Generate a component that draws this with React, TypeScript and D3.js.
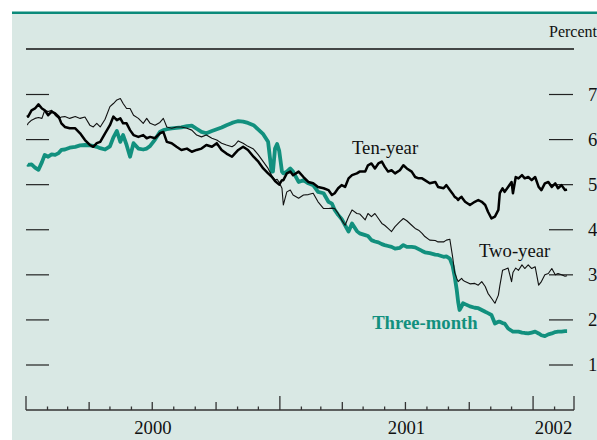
import React from "react";
import * as d3 from "d3";

const dates: string[] = [
  "2000-01-03","2000-01-04","2000-01-09","2000-01-14","2000-01-19","2000-01-24","2000-01-28",
  "2000-02-02","2000-02-07","2000-02-12","2000-02-17","2000-02-21","2000-02-26",
  "2000-03-04","2000-03-12","2000-03-19","2000-03-26",
  "2000-04-02","2000-04-07","2000-04-12","2000-04-17","2000-04-24",
  "2000-05-01","2000-05-06","2000-05-11","2000-05-16","2000-05-20","2000-05-25","2000-05-30",
  "2000-06-04","2000-06-11","2000-06-18","2000-06-23","2000-06-28",
  "2000-07-05","2000-07-12","2000-07-17","2000-07-22","2000-07-29",
  "2000-08-05","2000-08-12","2000-08-20","2000-08-27",
  "2000-09-03","2000-09-10","2000-09-17","2000-09-25",
  "2000-10-02","2000-10-09","2000-10-16","2000-10-24","2000-10-28",
  "2000-11-02","2000-11-09","2000-11-16","2000-11-24",
  "2000-12-01","2000-12-08","2000-12-15","2000-12-20","2000-12-22","2000-12-25","2000-12-28","2000-12-31",
  "2001-01-04","2001-01-06","2001-01-11","2001-01-16","2001-01-20","2001-01-28",
  "2001-02-04","2001-02-11","2001-02-18","2001-02-25",
  "2001-03-05","2001-03-12","2001-03-17","2001-03-21","2001-03-26","2001-03-31",
  "2001-04-05","2001-04-10","2001-04-15","2001-04-22","2001-04-26",
  "2001-05-04","2001-05-08","2001-05-13","2001-05-18","2001-05-23","2001-05-28",
  "2001-06-01","2001-06-06","2001-06-11","2001-06-16","2001-06-23","2001-06-28",
  "2001-07-03","2001-07-10","2001-07-15","2001-07-20","2001-07-25","2001-07-29",
  "2001-08-05","2001-08-13","2001-08-17","2001-08-25","2001-08-29",
  "2001-09-03","2001-09-07","2001-09-10","2001-09-13","2001-09-15","2001-09-17","2001-09-20","2001-09-22","2001-09-25",
  "2001-10-02","2001-10-09","2001-10-14","2001-10-19","2001-10-24","2001-10-28",
  "2001-11-02","2001-11-07","2001-11-12","2001-11-14","2001-11-18","2001-11-21","2001-11-26",
  "2001-12-01","2001-12-03","2001-12-07","2001-12-11","2001-12-16","2001-12-20","2001-12-25","2001-12-30",
  "2002-01-04","2002-01-09","2002-01-13","2002-01-18","2002-01-23","2002-01-28",
  "2002-02-02","2002-02-06","2002-02-11","2002-02-16","2002-02-19",
];

const tenYear: number[] = [
  6.54,6.51,6.65,6.69,6.78,6.69,6.65,
  6.54,6.62,6.58,6.51,6.36,6.28,
  6.25,6.25,6.14,5.99,
  5.88,5.84,5.92,5.95,6.14,
  6.32,6.51,6.43,6.47,6.36,6.36,6.21,
  6.10,6.06,6.10,6.03,6.06,
  6.03,6.14,6.17,5.95,5.92,
  5.84,5.77,5.80,5.73,
  5.77,5.80,5.88,5.84,
  5.92,5.77,5.69,5.62,5.69,
  5.77,5.84,5.77,5.62,
  5.51,5.36,5.25,5.18,5.14,5.08,5.04,5.00,
  5.10,5.10,5.25,5.29,5.21,5.29,
  5.17,5.06,5.03,4.95,
  4.92,4.88,4.77,4.81,4.92,4.99,
  4.95,5.14,5.21,5.25,5.29,
  5.29,5.43,5.47,5.36,5.47,5.51,
  5.40,5.29,5.32,5.25,5.32,5.43,
  5.36,5.29,5.17,5.14,5.14,5.10,
  5.03,5.06,4.95,4.92,4.99,
  4.88,4.80,4.73,4.70,4.66,4.70,4.73,4.68,4.62,
  4.55,4.62,4.66,4.62,4.55,4.40,
  4.25,4.29,4.44,4.81,4.92,4.84,4.95,
  5.06,4.81,5.17,5.14,5.21,5.14,5.17,5.10,
  5.17,4.95,4.88,5.03,5.06,4.95,
  5.03,4.92,4.99,4.88,4.89,
];

const twoYear: number[] = [
  6.32,6.36,6.43,6.47,6.49,6.47,6.65,
  6.62,6.65,6.54,6.47,6.50,6.51,
  6.47,6.51,6.47,6.50,
  6.32,6.28,6.36,6.28,6.45,
  6.73,6.80,6.88,6.91,6.80,6.69,6.69,
  6.54,6.47,6.36,6.47,6.36,
  6.32,6.38,6.47,6.28,6.25,
  6.28,6.28,6.25,6.21,
  6.10,6.06,6.10,6.03,
  5.99,5.92,5.88,5.84,5.88,
  5.97,5.92,5.85,5.79,
  5.66,5.51,5.36,5.21,5.16,5.10,5.12,5.05,
  4.92,4.55,4.84,4.88,4.77,4.70,
  4.77,4.78,4.81,4.62,
  4.47,4.47,4.48,4.47,4.36,4.22,
  4.10,4.29,4.44,4.36,4.35,
  4.22,4.36,4.29,4.36,4.25,4.14,
  4.10,4.03,3.96,4.07,4.18,4.25,
  4.20,4.10,4.03,3.99,3.92,3.85,
  3.77,3.76,3.73,3.73,3.77,
  3.79,3.40,3.05,2.92,2.85,2.88,2.92,2.88,2.85,
  2.80,2.81,2.77,2.85,2.74,2.59,
  2.48,2.37,2.55,2.75,3.10,3.12,3.15,
  2.85,3.05,3.15,3.10,3.22,3.14,3.22,3.14,
  3.18,2.77,2.85,3.00,3.03,3.14,
  3.00,3.03,3.00,2.97,2.98,
];

const threeMonth: number[] = [
  5.45,5.44,5.45,5.38,5.33,5.50,5.66,
  5.62,5.67,5.66,5.70,5.77,5.78,
  5.82,5.84,5.87,5.88,
  5.87,5.86,5.84,5.81,5.78,
  5.85,6.05,6.19,5.95,6.10,5.88,5.62,
  5.92,5.80,5.78,5.80,5.86,
  6.00,6.17,6.21,6.23,6.25,
  6.26,6.27,6.30,6.31,
  6.24,6.17,6.14,6.19,
  6.23,6.27,6.32,6.37,6.39,
  6.41,6.40,6.37,6.32,
  6.22,6.12,5.95,5.29,5.29,5.80,5.90,5.75,
  5.29,5.25,5.29,5.36,5.29,5.06,
  5.10,5.03,4.99,4.84,
  4.81,4.62,4.58,4.44,4.33,4.24,
  4.10,3.96,4.14,3.97,3.92,
  3.88,3.86,3.77,3.74,3.72,3.68,
  3.66,3.64,3.62,3.58,3.60,3.66,
  3.62,3.62,3.61,3.57,3.53,3.50,
  3.48,3.45,3.44,3.40,3.41,
  3.36,3.20,2.96,2.66,2.40,2.22,2.30,2.37,2.35,
  2.30,2.27,2.26,2.22,2.18,2.15,
  2.11,1.92,1.96,1.96,1.93,1.92,1.81,
  1.76,1.74,1.74,1.74,1.72,1.71,1.70,1.72,
  1.74,1.70,1.66,1.64,1.68,1.70,
  1.73,1.74,1.74,1.75,1.75,
];

const yTicks: number[] = [1, 2, 3, 4, 5, 6, 7];
const yearLabels: number[] = [2000, 2001, 2002];
const seriesLabels = [
  { name: "Ten-year", date: "2001-04-15", value: 5.68, bold: false },
  { name: "Two-year", date: "2001-10-15", value: 3.40, bold: false },
  { name: "Three-month", date: "2001-05-14", value: 1.80, bold: true },
];

const FONT = "'Liberation Serif', 'Times New Roman', serif";
const TEAL = "#12907e";
const BG = "#d9e8e4";

export default function App() {
  const W = 597, H = 440;
  const parse = d3.timeParse("%Y-%m-%d");
  const start = new Date(2000, 0, 1);
  const end = new Date(2002, 2, 1);
  const x = d3.scaleTime().domain([start, end]).range([26, 574]);
  const y = d3.scaleLinear().domain([1, 7]).range([365, 94.5]);
  const parsed = dates.map((d) => parse(d) as Date);
  const mk = (vals: number[]) =>
    d3.line<number>().x((_, i) => x(parsed[i])).y((v) => y(v))(vals) || "";

  const months = d3.timeMonth.range(start, d3.timeDay.offset(end, 1));
  const axisY = 410;

  return (
    <svg width={W} height={H} style={{ position: "absolute", left: 0, top: 0, display: "block" }}>
      <rect x={0} y={0} width={W} height={H} fill="#ffffff" />
      <rect x={12} y={12} width={W - 12} height={H - 12} fill={BG} />
      <rect x={12} y={11.5} width={W - 12} height={2.5} fill="#0b8a7a" />
      <text x={549} y={37} fontFamily={FONT} fontSize={16} fill="#111">Percent</text>
      <line x1={26} x2={574} y1={49} y2={49} stroke="#111" strokeWidth={1.3} />

      {yTicks.map((t) => (
        <g key={t}>
          <line x1={26} x2={49} y1={y(t)} y2={y(t)} stroke="#222" strokeWidth={1.2} />
          <line x1={549} x2={573} y1={y(t)} y2={y(t)} stroke="#222" strokeWidth={1.2} />
          <text x={588} y={y(t) + 6.3} fontFamily={FONT} fontSize={18.7} fill="#111">{t}</text>
        </g>
      ))}

      <path d={mk(threeMonth)} fill="none" stroke={TEAL} strokeWidth={3.8} strokeLinejoin="round" />
      <path d={mk(twoYear)} fill="none" stroke="#111" strokeWidth={1.1} strokeLinejoin="round" />
      <path d={mk(tenYear)} fill="none" stroke="#000" strokeWidth={2.5} strokeLinejoin="round" />

      {seriesLabels.map((s) => (
        <text key={s.name} x={x(parse(s.date) as Date)} y={y(s.value)} fontFamily={FONT}
          fontSize={18.7} fontWeight={s.bold ? "bold" : "normal"} fill={s.bold ? TEAL : "#111"}>
          {s.name}
        </text>
      ))}

      <line x1={26} x2={574} y1={axisY} y2={axisY} stroke="#333" strokeWidth={1.5} />
      {months.map((m, i) => {
        const isEnd = +m === +end;
        const h = m.getMonth() === 0 || isEnd ? 14 : m.getMonth() % 3 === 0 ? 8 : 3.5;
        return <line key={i} x1={x(m)} x2={x(m)} y1={axisY} y2={axisY - h} stroke="#333" strokeWidth={1.3} />;
      })}
      {yearLabels.map((yr) => {
        const s = new Date(yr, 0, 1);
        const e = new Date(Math.min(+new Date(yr + 1, 0, 1), +end));
        return (
          <text key={yr} x={(x(s) + x(e)) / 2} y={434} textAnchor="middle" fontFamily={FONT}
            fontSize={18.7} fill="#111">{yr}</text>
        );
      })}
    </svg>
  );
}
